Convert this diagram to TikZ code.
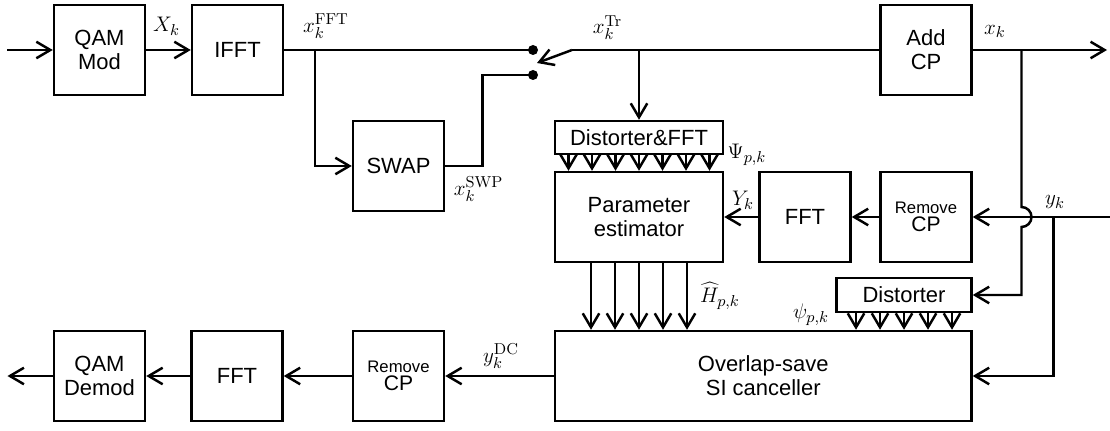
\documentclass[tikz,border=0pt]{standalone}
\usepackage[no-math]{fontspec}
\setmainfont{Liberation Sans}
\usetikzlibrary{arrows.meta}
\tikzset{
  blk/.style={draw, minimum width=1.82cm, minimum height=1.8cm, align=center, inner sep=1pt},
  rcp/.style={blk, font=\fontsize{12}{10.5}\selectfont},
  lbl/.style={font=\fontsize{13}{15}\selectfont, inner sep=0pt}
}
\newcommand{\rmcp}{{\fontsize{9.5}{10.5}\selectfont Remove}\\CP}
\begin{document}
\begin{tikzpicture}[>={Straight Barb[length=2.8mm,width=3.3mm]}, line width=1.4pt, font=\fontsize{12.5}{13.5}\selectfont]
	\useasboundingbox (0,0) rectangle (22.2,8.6);
	% blocks
	\node[blk] (qam) at (1.99,7.6) {QAM\\Mod};
	\node[blk] (ifft) at (4.75,7.6) {IFFT};
	\node[blk] (swap) at (7.97,5.28) {SWAP};
	\node[blk] (addcp) at (18.52,7.6) {Add\\CP};
	\node[draw, minimum width=3.36cm, minimum height=0.66cm, inner sep=1pt] (distfft) at (12.78,5.85) {Distorter\&FFT};
	\node[draw, minimum width=3.36cm, minimum height=1.8cm, align=center] (param) at (12.78,4.26) {Parameter\\estimator};
	\node[blk] (fftu) at (16.1,4.26) {FFT};
	\node[rcp] (rcpu) at (18.52,4.26) {\rmcp};
	\node[draw, minimum width=2.7cm, minimum height=0.68cm, inner sep=1pt] (dist) at (18.08,2.7) {Distorter};
	\node[draw, minimum width=8.33cm, minimum height=1.8cm, align=center] (ols) at (15.265,1.08) {Overlap-save\\SI canceller};
	\node[rcp] (rcpb) at (7.97,1.08) {\rmcp};
	\node[blk] (fftb) at (4.74,1.08) {FFT};
	\node[blk] (qamd) at (1.99,1.08) {QAM\\Demod};
	% junctions
	\coordinate (in) at (0.15,7.6);
	\coordinate (out) at (22.14,7.6);
	\coordinate (dem) at (0.15,1.08);
	\coordinate (sw1) at (10.66,7.6);
	\coordinate (sw2) at (10.66,7.1);
	\coordinate (arm) at (11.44,7.6);
	\coordinate (armtip) at (10.74,7.34);
	\coordinate (brf) at (6.3,7.6);
	\coordinate (swup) at (9.65,5.28);
	\coordinate (brtr) at (12.78,7.6);
	\coordinate (brx) at (20.43,7.6);
	\coordinate (yin) at (22.2,4.26);
	\coordinate (bry) at (21.07,4.26);
	% transmitter
	\draw[->] (in) -- (qam);
	\draw[->] (qam) -- (ifft);
	\draw (ifft) -- (sw1);
	\draw[->] (brf) |- (swap);
	\draw (swap) -- (swup) |- (sw2);
	\fill (sw1) circle (0.1);
	\fill (sw2) circle (0.1);
	\draw[->] (arm) -- (armtip);
	\draw (arm) -- (addcp);
	\draw[->] (brtr) -- (distfft);
	\draw[->] (addcp) -- (out);
	\draw[->] (brx) -- ([yshift=0.2cm]brx |- bry) arc (90:-90:0.2) |- (dist);
	% receiver
	\draw[->] (yin) -- (rcpu);
	\draw[->] (rcpu) -- (fftu);
	\draw[->] (fftu) -- (param);
	\draw[->] (bry) |- (ols);
	\foreach \i in {-3,...,3}
		\draw[->] ([xshift=\i*0.47cm]distfft.south) -- ([xshift=\i*0.47cm]param.north);
	\foreach \i in {-2,...,2}
		\draw[->] ([xshift=\i*0.48cm]param.south) -- ([xshift=\i*0.48cm]param.south |- ols.north);
	\foreach \i in {-2,...,2}
		\draw[->] ([xshift=\i*0.48cm]dist.south) -- ([xshift=\i*0.48cm]dist.south |- ols.north);
	\draw[->] (ols) -- (rcpb);
	\draw[->] (rcpb) -- (fftb);
	\draw[->] (fftb) -- (qamd);
	\draw[->] (qamd) -- (dem);
	% labels
	\node[lbl] (lXk) at (3.33,8.08) {$X_k$};
	\node[lbl] (lfft) at (6.52,8.08) {$x_k^{\mathrm{FFT}}$};
	\node[lbl] (lswp) at (9.57,4.82) {$x_k^{\mathrm{SWP}}$};
	\node[lbl] (ltr) at (12.15,8.05) {$x_k^{\mathrm{Tr}}$};
	\node[lbl] (lxk) at (19.9,7.97) {$x_k$};
	\node[lbl] (lPsi) at (14.94,5.5) {$\Psi_{p,k}$};
	\node[lbl] (lYk) at (14.86,4.6) {$Y_k$};
	\node[lbl] (lH) at (14.4,2.68) {$\widehat{H}_{p,k}$};
	\node[lbl] (lpsi) at (16.22,2.3) {$\psi_{p,k}$};
	\node[lbl] (lyk) at (21.1,4.56) {$y_k$};
	\node[lbl] (ldc) at (10.02,1.48) {$y_k^{\mathrm{DC}}$};
\end{tikzpicture}
\end{document}
